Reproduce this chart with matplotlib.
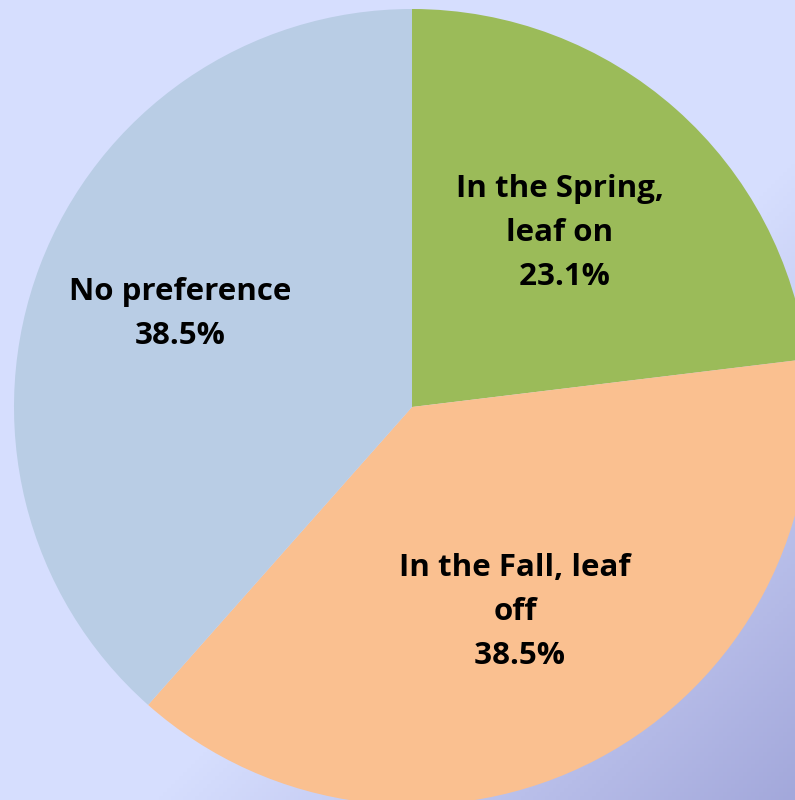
import numpy as np
import matplotlib.pyplot as plt
from matplotlib.colors import to_rgb

labels = ["In the Spring,\nleaf on\n 23.1%", "In the Fall, leaf\noff\n 38.5%", "No preference\n38.5%"]
values = [3, 5, 5]
colors = ["#9BBB59", "#FAC090", "#B9CDE5"]
label_pos = [(0.372, 0.437), (0.259, -0.515), (-0.583, 0.234)]

W, H = 795, 800
fig = plt.figure(figsize=(W / 100, H / 100), dpi=100)

# background gradient, light at top-left, darker purple-blue to bottom-right
bg = fig.add_axes([0, 0, 1, 1])
xx, yy = np.meshgrid(np.linspace(0, 1, 200), np.linspace(0, 1, 200))
s = (xx * W + yy * H) / (W + H)
t = np.clip((s - 0.6) / 0.4, 0, 1)[..., None]
light = np.array(to_rgb("#D6DEFE"))
dark = np.array(to_rgb("#A3A8DB"))
bg.imshow(light + (dark - light) * t, extent=[0, 1, 0, 1], origin="upper", aspect="auto")
bg.axis("off")

# pie: center (412, 407) px, radius 398 px
cx, cy, r = 412, 407, 398
ax = fig.add_axes([(cx - r) / W, (H - cy - r) / H, 2 * r / W, 2 * r / H])
ax.pie(values, colors=colors, startangle=90, counterclock=False, radius=1,
       wedgeprops=dict(linewidth=0))
ax.set_xlim(-1, 1)
ax.set_ylim(-1, 1)
ax.set_aspect("equal")
ax.axis("off")

for lab, (x, y) in zip(labels, label_pos):
    ax.text(x, y, lab, ha="center", va="center", multialignment="center",
            fontsize=22.5, fontweight="bold", family="Open Sans", linespacing=1.62,
            color="black")

fig.savefig("out.png", dpi=100)
